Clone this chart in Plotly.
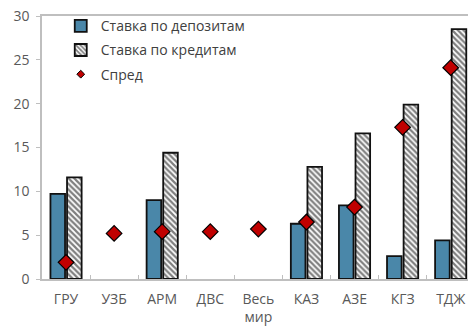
import plotly.graph_objects as go

# Interest rates by country, %
categories = ["ГРУ", "УЗБ", "АРМ", "ДВС", "Весь<br>мир", "КАЗ", "АЗЕ", "КГЗ", "ТДЖ"]
deposit_rate = [9.7, None, 9.0, None, None, 6.3, 8.4, 2.6, 4.4]
loan_rate = [11.6, None, 14.4, None, None, 12.8, 16.6, 19.9, 28.5]
spread = [1.9, 5.2, 5.4, 5.4, 5.7, 6.5, 8.2, 17.3, 24.1]

y_ticks = [0, 5, 10, 15, 20, 25, 30]

FONT = "Open Sans, Noto Sans, DejaVu Sans, sans-serif"
TEXT = "#595959"
AXIS = "#bfbfbf"
EDGE = "#111111"

fig = go.Figure()

fig.add_trace(go.Bar(
    x=categories, y=deposit_rate, name="Ставка по депозитам", legendgroup="dep",
    marker=dict(color="#4a87a9", line=dict(color=EDGE, width=1.8)),
))
fig.add_trace(go.Bar(
    x=categories, y=loan_rate, name="Ставка по кредитам", legendgroup="loan",
    marker=dict(
        color="white",
        line=dict(color=EDGE, width=1.8),
        pattern=dict(shape="\\", fgcolor="black", bgcolor="white", size=4, solidity=0.55),
    ),
))
# Spread markers (legend entry drawn with a smaller diamond below)
fig.add_trace(go.Scatter(
    x=categories, y=spread, name="Спред", mode="markers", showlegend=False,
    legendgroup="spread",
    marker=dict(symbol="diamond", size=12, color="#c00000", line=dict(color="black", width=1.2)),
))
fig.add_trace(go.Scatter(
    x=[None], y=[None], name="Спред", mode="markers", legendgroup="spread",
    marker=dict(symbol="diamond", size=6, color="#c00000", line=dict(color="black", width=1)),
))

fig.update_layout(
    width=468, height=326,
    margin=dict(l=42, r=0, t=16, b=47),
    paper_bgcolor="white", plot_bgcolor="white",
    font=dict(family=FONT, size=14, color=TEXT),
    barmode="group", bargap=0.31, bargroupgap=0.12,
    showlegend=True,
    legend=dict(
        x=0.044, y=1.022, xanchor="left", yanchor="top",
        bgcolor="rgba(0,0,0,0)", itemwidth=30,
        font=dict(family=FONT, size=14, color="#404040"),
        tracegroupgap=3,
    ),
)

fig.update_xaxes(
    type="category", range=[-0.5, 8.36],
    showline=True, linecolor=AXIS, linewidth=1.5, mirror=True,
    ticks="inside", tickson="boundaries", ticklen=4, tickcolor=AXIS,
    showgrid=False, tickfont=dict(size=14, color=TEXT), ticklabelstandoff=6,
)
fig.update_yaxes(
    range=[0, 30], tickvals=y_ticks,
    showline=True, linecolor=AXIS, linewidth=1.5,
    ticks="outside", ticklen=4, tickcolor=AXIS,
    showgrid=False, zeroline=False, tickfont=dict(size=14, color=TEXT),
    ticklabelstandoff=4,
)

fig.write_html("out.html")
